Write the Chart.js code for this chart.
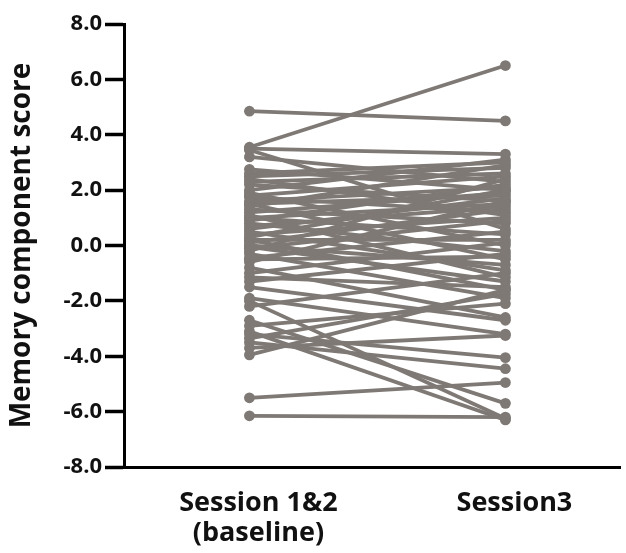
<!DOCTYPE html>
<html><head><meta charset="utf-8">
<script src="https://cdn.jsdelivr.net/npm/chart.js@4"></script>
<style>html,body{margin:0;padding:0;background:#fff}</style>
</head><body>
<canvas id="c" width="626" height="553" style="width:626px;height:553px;display:block"></canvas>
<script>
const categories = [["Session 1&2", "(baseline)"], "Session3"];
const baseline = [4.85, 3.55, 3.5, 3.45, 3.2, 2.75, 2.6, 2.4, 2.3, 2.2, 2.0, 1.9, 1.8, 1.75, 1.6, 1.5, 1.5, 1.4, 1.3, 1.2,
  1.1, 1.0, 1.0, 0.9, 0.8, 0.7, 0.6, 0.5, 0.4, 0.3, 0.2, 0.2, 0.1, 0.0, -0.1, -0.2, -0.3, -0.45, -0.5, -0.6,
  -0.8, -1.0, -1.15, -1.3, -1.5, -1.9, -2.0, -2.2, -2.7, -2.9, -3.1, -3.2, -3.35, -3.5, -3.7, -3.95, -5.5, -6.15, 2.5, -0.05];
const session3 = [4.5, 6.5, 3.3, 0.6, 2.3, 2.0, 3.0, 1.1, 2.6, 1.6, 3.1, 0.0, 2.5, 1.2, 2.1, -0.5, 1.8, 2.9, 0.8, 1.9,
  -1.15, 1.5, 0.4, 2.2, -0.2, 1.4, 1.7, -0.9, 1.0, 2.0, 0.2, -1.6, 1.3, -0.7, 0.9, 2.4, -1.9, 0.5, -0.4, 1.6,
  -2.6, 0.1, -1.5, -0.3, -2.7, -3.2, -6.25, -1.0, -5.7, -2.1, -6.3, -4.05, -1.75, -4.45, -3.25, -1.6, -4.95, -6.2, 2.8, -1.3];
const yTicks = [-8, -6, -4, -2, 0, 2, 4, 6, 8];
const lineColor = '#7f7975';

const datasets = baseline.map((b, i) => ({
  data: [{x: 0, y: b}, {x: 1, y: session3[i]}],
  borderColor: lineColor, backgroundColor: lineColor,
  borderWidth: 3.8, pointRadius: 5.4, pointHoverRadius: 5.4, pointBorderWidth: 0,
  showLine: true
}));

new Chart(document.getElementById('c'), {
  type: 'scatter',
  data: {datasets},
  options: {
    responsive: false, animation: false,
    plugins: {legend: {display: false}, tooltip: {enabled: false}},
    layout: {padding: {top: 24, right: 4, left: 0, bottom: 0}},
    scales: {
      x: {
        type: 'linear', min: -0.49, max: 1.45,
        afterBuildTicks: s => { s.ticks = [{value: 0}, {value: 1}]; },
        afterFit: s => { s.height = 86; },
        ticks: {callback: v => categories[v], font: {family: 'Open Sans', weight: 'bold', size: 27, lineHeight: 1.12},
          color: '#111', padding: 13, labelOffset: 9, maxRotation: 0, autoSkip: false},
        grid: {display: false},
        border: {display: true, color: '#000', width: 3}
      },
      y: {
        min: -8, max: 8,
        afterBuildTicks: s => { s.ticks = yTicks.map(v => ({value: v})); },
        afterFit: s => { s.width = 124; },
        ticks: {callback: v => v.toFixed(1), font: {family: 'Open Sans', weight: 'bold', size: 22}, color: '#111', padding: 3},
        grid: {drawOnChartArea: false, drawTicks: true, tickLength: 19, tickWidth: 3.5, color: '#000'},
        border: {display: true, color: '#000', width: 3},
        title: {display: true, text: 'Memory component score', color: '#111',
          font: {family: 'Open Sans', weight: 'bold', size: 28}, padding: {top: 5, bottom: 0}}
      }
    }
  }
});
</script>
</body></html>
